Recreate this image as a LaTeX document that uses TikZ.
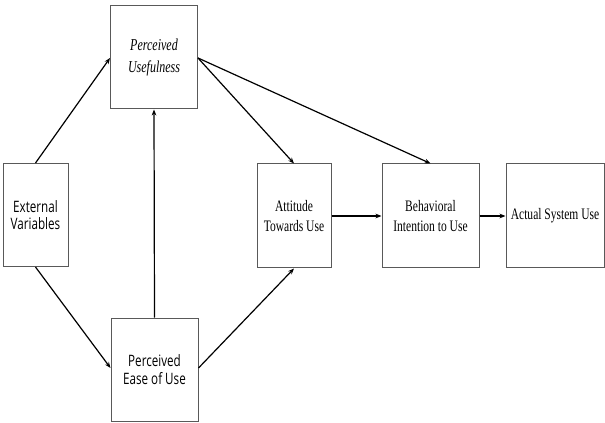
\documentclass[tikz,border=0pt]{standalone}
\usepackage{fontspec}
\setmainfont{Liberation Serif}[FakeStretch=0.72]
\newfontfamily\boxsans{Open Sans}[FakeStretch=0.74]
\usetikzlibrary{arrows.meta}
\begin{document}
\begin{tikzpicture}[x=0.75pt,y=-0.75pt,
  box/.style={draw=black!65,line width=0.75pt,inner sep=0pt,align=center,font=\fontsize{12}{14.5}\selectfont},
  sbox/.style={box,font=\boxsans\fontsize{11.8}{13.2}\selectfont},
  arr/.style={draw=black,line width=0.9pt,-{Stealth[length=4.5pt,width=3.5pt]}}]
\useasboundingbox (0,0) rectangle (605,423);
\node[sbox,minimum width=65*0.75pt,minimum height=103*0.75pt] (ev) at (35.5,215) {External\\Variables};
\node[box,minimum width=87*0.75pt,minimum height=103*0.75pt,font=\itshape\fontsize{12.5}{17}\selectfont] (pu) at (154,57.5) {Perceived\\Usefulness};
\node[sbox,minimum width=87*0.75pt,minimum height=103*0.75pt] (peou) at (154.5,369.5) {Perceived\\Ease of Use};
\node[box,minimum width=74*0.75pt,minimum height=104*0.75pt] (att) at (294,216) {Attitude\\Towards Use};
\node[box,minimum width=97*0.75pt,minimum height=104*0.75pt] (bi) at (430.5,216) {Behavioral\\Intention to Use};
\node[box,minimum width=98*0.75pt,minimum height=104*0.75pt] (asu) at (555,216) {Actual System Use};
\coordinate (pur) at (pu.east |- 0,58);
\draw[arr] (ev.north) -- (pu.west |- 0,58);
\draw[arr] (ev.south) -- (peou.west |- 0,368);
\draw[arr] (peou.north) -- (pu.south);
\draw[arr] (peou.east |- 0,368) -- (att.south);
\draw[arr] (pur) -- (att.north);
\draw[arr] (pur) -- (bi.north);
\draw[arr] (att.east) -- (bi.west);
\draw[arr] (bi.east) -- (asu.west);
\end{tikzpicture}
\end{document}
